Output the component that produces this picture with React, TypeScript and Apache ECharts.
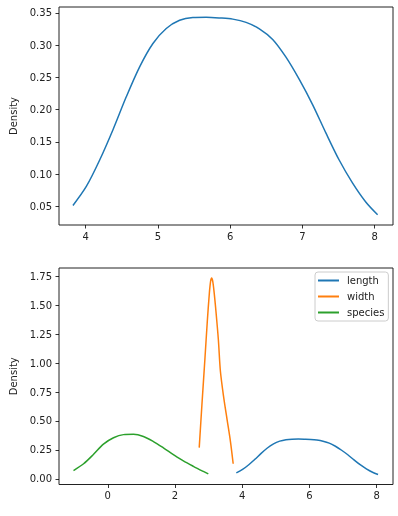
import React, { useEffect, useRef } from "react";
import * as echarts from "echarts";

// length KDE (x, density)
const lengthX = [3.824, 4.009, 4.194, 4.378, 4.562, 4.747, 4.931, 5.115, 5.3, 5.483, 5.668, 5.852, 6.036, 6.22, 6.404, 6.588, 6.772, 6.956, 7.14, 7.324, 7.508, 7.692, 7.876, 8.04];
const lengthY = [0.0515, 0.081, 0.122, 0.169, 0.22, 0.2665, 0.3027, 0.326, 0.3387, 0.3429, 0.3433, 0.3423, 0.3405, 0.3355, 0.3255, 0.309, 0.2815, 0.247, 0.208, 0.164, 0.122, 0.0866, 0.057, 0.0372];

// width KDE
const widthX = [2.72, 2.8, 2.89, 2.96, 3.02, 3.06, 3.09, 3.12, 3.16, 3.22, 3.29, 3.35, 3.45, 3.55, 3.65, 3.73];
const widthY = [0.27, 0.64, 1.04, 1.36, 1.6, 1.71, 1.735, 1.71, 1.62, 1.44, 1.2, 0.93, 0.7, 0.51, 0.32, 0.13];

// species KDE
const speciesX = [-1.02, -0.72, -0.43, -0.13, 0.17, 0.466, 0.763, 1.06, 1.357, 1.654, 1.951, 2.248, 2.545, 2.842, 2.99];
const speciesY = [0.0717, 0.13, 0.21, 0.3, 0.355, 0.382, 0.385, 0.366, 0.322, 0.268, 0.21, 0.155, 0.108, 0.064, 0.043];

const topXTicks = [4, 5, 6, 7, 8];
const topYTicks = [0.05, 0.1, 0.15, 0.2, 0.25, 0.3, 0.35];
const botXTicks = [0, 2, 4, 6, 8];
const botYTicks = [0, 0.25, 0.5, 0.75, 1.0, 1.25, 1.5, 1.75];

const seriesNames = ["length", "width", "species"];
const colors = ["#1f77b4", "#ff7f0e", "#2ca02c"];

const zip = (xs: number[], ys: number[]) => xs.map((x, i) => [x, ys[i]]);

const FONT = "DejaVu Sans";
const TXT = "#222";

function xAxisCfg(gridIndex: number, min: number, max: number, ticks: number[], fmt: (v: number) => string) {
  return {
    type: "value",
    gridIndex,
    min,
    max,
    splitLine: { show: false },
    axisLine: { show: false, onZero: false },
    axisTick: { show: true, length: 3.5, inside: false, lineStyle: { color: "#000", width: 0.8 }, customValues: ticks },
    axisLabel: { customValues: ticks, formatter: fmt, fontFamily: FONT, fontSize: 10, color: TXT, margin: 6 },
  };
}

function yAxisCfg(gridIndex: number, min: number, max: number, ticks: number[]) {
  return {
    type: "value",
    gridIndex,
    min,
    max,
    name: "Density",
    nameLocation: "middle",
    nameGap: 36,
    nameTextStyle: { fontFamily: FONT, fontSize: 10, color: TXT },
    splitLine: { show: false },
    axisLine: { show: false, onZero: false },
    axisTick: { show: true, length: 3.5, inside: false, lineStyle: { color: "#000", width: 0.8 }, customValues: ticks },
    axisLabel: { customValues: ticks, formatter: (v: number) => v.toFixed(2), fontFamily: FONT, fontSize: 10, color: TXT, margin: 7 },
  };
}

export default function App() {
  const ref = useRef<HTMLDivElement>(null);
  useEffect(() => {
    if (!ref.current) return;
    const chart = echarts.init(ref.current, null, { renderer: "svg" });
    const lineBase = { type: "line", showSymbol: false, symbol: "none", smooth: 0.3, lineStyle: { width: 1.5 } };
    chart.setOption({
      animation: false,
      color: colors,
      textStyle: { fontFamily: FONT },
      grid: [
        { left: 59, top: 7, width: 334, height: 218, show: true, borderColor: "#222", borderWidth: 1, backgroundColor: "transparent" },
        { left: 59, top: 268, width: 334, height: 216.5, show: true, borderColor: "#222", borderWidth: 1, backgroundColor: "transparent" },
      ],
      xAxis: [
        xAxisCfg(0, 3.631, 8.253, topXTicks, (v: number) => String(v)),
        xAxisCfg(1, -1.452, 8.485, botXTicks, (v: number) => String(v)),
      ],
      yAxis: [
        yAxisCfg(0, 0.0212, 0.3593, topYTicks),
        yAxisCfg(1, -0.049, 1.822, botYTicks),
      ],
      legend: {
        data: seriesNames.map((n) => ({ name: n, icon: "rect" })),
        orient: "vertical",
        left: 315,
        top: 272,
        itemWidth: 21,
        itemHeight: 2,
        itemGap: 3,
        padding: [2, 4, 2, 3],
        borderColor: "#cccccc",
        borderWidth: 1,
        borderRadius: 3,
        backgroundColor: "rgba(255,255,255,0.8)",
        textStyle: { fontFamily: FONT, fontSize: 10, color: TXT, lineHeight: 13, padding: [0, 0, 0, 3] },
        selectedMode: false,
      },
      series: [
        { ...lineBase, name: "length", xAxisIndex: 0, yAxisIndex: 0, data: zip(lengthX, lengthY), color: colors[0] },
        { ...lineBase, name: "length", xAxisIndex: 1, yAxisIndex: 1, data: zip(lengthX, lengthY), color: colors[0] },
        { ...lineBase, name: "width", xAxisIndex: 1, yAxisIndex: 1, data: zip(widthX, widthY), color: colors[1] },
        { ...lineBase, name: "species", xAxisIndex: 1, yAxisIndex: 1, data: zip(speciesX, speciesY), color: colors[2] },
      ],
    });
    return () => chart.dispose();
  }, []);
  return <div ref={ref} style={{ position: "fixed", left: 0, top: 0, width: 398, height: 516 }} />;
}
